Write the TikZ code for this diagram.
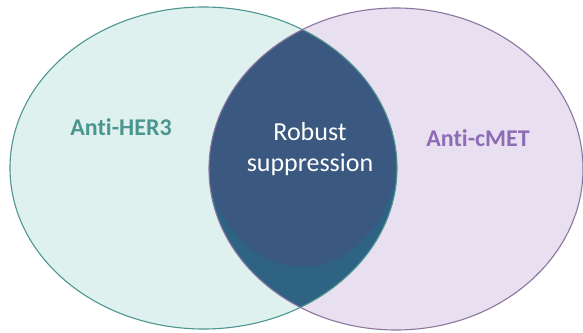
\documentclass[tikz,border=0pt]{standalone}
\usepackage{fontspec}
\setmainfont[Ligatures=CommonOff]{Carlito}
\definecolor{leftfill}{RGB}{222,241,239}
\definecolor{rightfill}{RGB}{232,224,241}
\definecolor{leftline}{RGB}{78,150,144}
\definecolor{rightline}{RGB}{140,118,158}
\definecolor{lensouter}{RGB}{46,99,132}
\definecolor{lensinner}{RGB}{58,88,128}
\definecolor{hertext}{RGB}{74,150,143}
\definecolor{mettext}{RGB}{142,107,181}
\begin{document}
\begin{tikzpicture}[x=1pt,y=-1pt,
  setlabel/.style={font=\fontsize{24}{28}\selectfont\bfseries, inner sep=0pt},
  lenslabel/.style={font=\fontsize{26}{32}\selectfont, text=white, align=center, inner sep=0pt}]
\useasboundingbox (0,0) rectangle (583,332);
\fill[white] (0,0) rectangle (583,332);
\def\leftE{(203.5,168) ellipse [x radius=193.5pt, y radius=161pt]}
\def\rightE{(396,169) ellipse [x radius=187pt, y radius=161pt]}
\fill[leftfill] \leftE;
\fill[rightfill] \rightE;
\begin{scope}
  \clip \leftE;
  \fill[lensouter] \rightE;
  \clip \rightE;
  \fill[lensinner] (302,145) ellipse [x radius=97pt, y radius=122pt];
\end{scope}
\draw[leftline, line width=1.1pt] \leftE;
\draw[rightline, line width=1.1pt] \rightE;
\fill[white] (563,0) rectangle (583,87);
\node[setlabel, text=hertext, anchor=base] (her) at (121,135) {Anti-HER3};
\node[setlabel, text=mettext, anchor=base] (met) at (478,146) {Anti-cMET};
\node[lenslabel, anchor=base] (rob) at (310,140) {Robust};
\node[lenslabel, anchor=base] (sup) at (310,171) {suppression};
\end{tikzpicture}
\end{document}
